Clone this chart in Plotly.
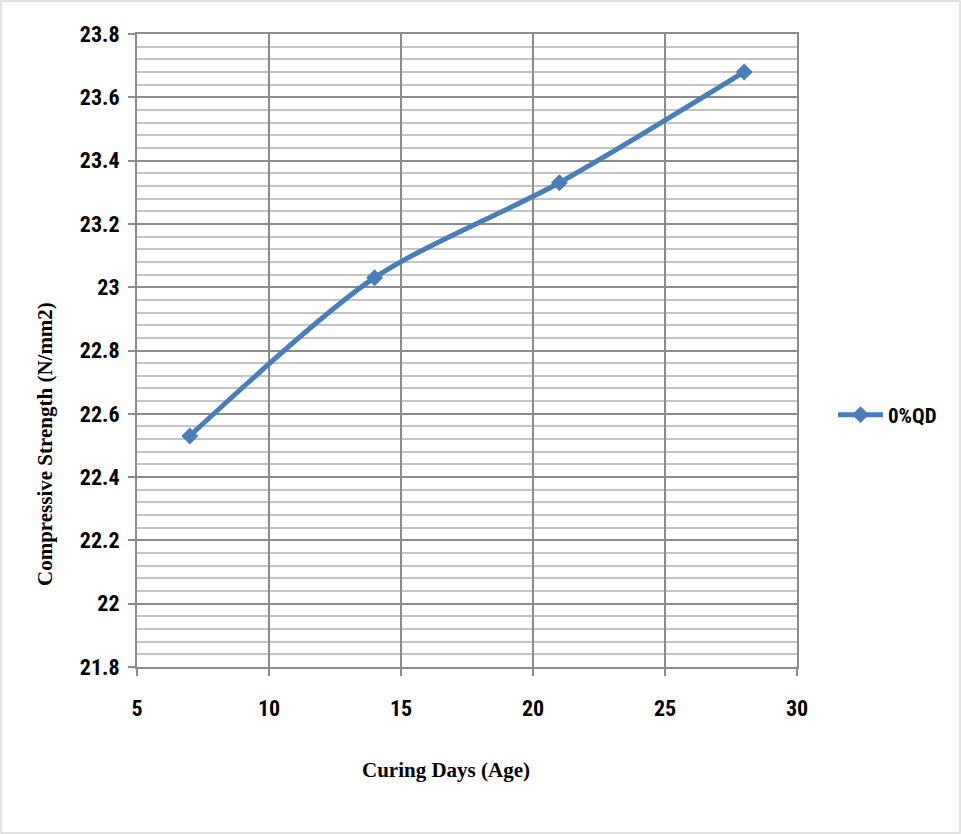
import plotly.graph_objects as go

days = [7, 14, 21, 28]
strength = [22.53, 23.03, 23.33, 23.68]
series_name = "0%QD"
x_title = "Curing Days (Age)"
y_title = "Compressive Strength (N/mm2)"

W, H = 961, 834
L, R, T, B = 137, 164, 34, 167
pw, ph = W - L - R, H - T - B

tick_font = dict(family="Liberation Sans Narrow, Arial Narrow, Roboto Condensed, Roboto, sans-serif",
                 size=22, color="black", weight="bold")
title_font = dict(family="Liberation Serif, Times New Roman, serif", size=21, color="black")

fig = go.Figure()
fig.add_trace(go.Scatter(
    x=days, y=strength, name=series_name, mode="lines+markers",
    line=dict(color="#4A7EBB", width=5, shape="spline", smoothing=0.8),
    marker=dict(symbol="diamond", size=13, color="#4A7EBB"),
))

fig.update_layout(
    width=W, height=H,
    margin=dict(l=L, r=R, t=T, b=B),
    paper_bgcolor="white", plot_bgcolor="white",
    showlegend=True,
    legend=dict(x=(833 - L) / pw, y=(H - B - 415) / ph, xanchor="left", yanchor="middle",
                font=dict(family=tick_font["family"], size=21, color="black", weight="bold"),
                itemwidth=45, bgcolor="rgba(0,0,0,0)"),
    xaxis=dict(range=[5, 30], dtick=5, tick0=5, showgrid=True, gridcolor="#8C8C8C", gridwidth=2,
               zeroline=False, showline=True, linecolor="#8C8C8C", linewidth=2, mirror=True,
               ticks="outside", ticklen=7, tickcolor="#8C8C8C", tickwidth=2,
               tickfont=tick_font, ticklabelstandoff=14),
    yaxis=dict(range=[21.8, 23.8], dtick=0.2, tick0=21.8, showgrid=True, gridcolor="#8C8C8C", gridwidth=2,
               zeroline=False, showline=True, linecolor="#8C8C8C", linewidth=2, mirror=True,
               ticks="outside", ticklen=7, tickcolor="#8C8C8C", tickwidth=2,
               tickfont=tick_font, tickformat="~g", ticklabelstandoff=4,
               minor=dict(dtick=0.04, tick0=21.8, showgrid=True, gridcolor="#C4C4C4", gridwidth=2)),
)

fig.add_annotation(text="<b>" + x_title + "</b>", xref="paper", yref="paper",
                   x=(446 - L) / pw, y=(H - B - 770) / ph, showarrow=False,
                   xanchor="center", yanchor="middle", font=title_font)
fig.add_annotation(text="<b>" + y_title + "</b>", xref="paper", yref="paper",
                   x=(45 - L) / pw, y=(H - B - 444) / ph, showarrow=False, textangle=-90,
                   xanchor="center", yanchor="middle", font=title_font)

fig.add_shape(type="rect", xref="paper", yref="paper",
              x0=(1 - L) / pw, x1=(960 - L) / pw, y0=(H - B - 833) / ph, y1=(H - B - 1) / ph,
              line=dict(color="#D9D9D9", width=1.5), fillcolor="rgba(0,0,0,0)", layer="below")

fig.write_html("out.html")
